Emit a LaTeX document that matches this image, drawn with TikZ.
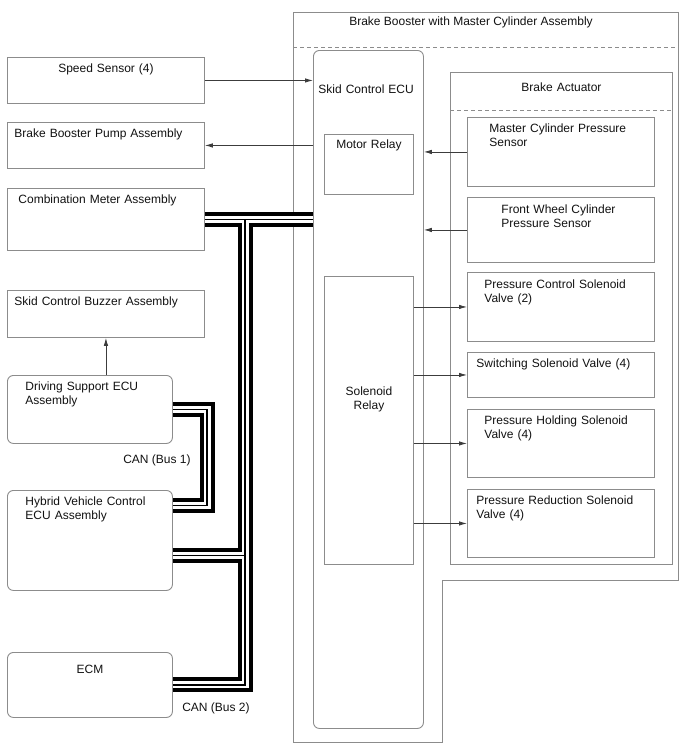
\documentclass[tikz,border=0pt]{standalone}
\usepackage{fontspec}
\setmainfont{Liberation Sans}
\usepackage{tikz}
\usetikzlibrary{arrows.meta}
\definecolor{ink}{HTML}{111111}
\definecolor{frame}{HTML}{8C8C8C}
\definecolor{wire}{HTML}{3C3C3C}
\tikzset{
  blk/.style={
    draw=frame, line width=0.9pt, anchor=north west, align=left,
    text height=9pt, font=\fontsize{12}{14.5}\selectfont\color{ink}},
  ecubox/.style={blk, rounded corners=6pt},
  sig/.style={-{Latex[length=8pt,width=4.5pt]}, line width=0.8pt, color=wire},
  can/.style={draw=black, line width=15pt,
    postaction={draw=white, line width=7pt},
    postaction={draw=black, line width=1.2pt}},
  tag/.style={font=\fontsize{12}{14.5}\selectfont\color{ink}},
}

\begin{document}
\begin{tikzpicture}[x=1pt, y=-1pt]
  \useasboundingbox (0,0) rectangle (688,755);

  % booster housing
  \draw[frame, line width=0.9pt] (293,12) -- (678,12) -- (678,580) -- (442,580) -- (442,742) -- (293,742) -- cycle;
  \draw[frame, line width=0.9pt, dash pattern=on 4pt off 3pt] (293,47) -- (678,47);
  \node[tag] (booster) at (471,22) {Brake Booster with Master Cylinder Assembly};

  % left side parts
  \node[blk, align=center, text width=189pt, inner xsep=4pt, inner ysep=6pt, text depth=25pt] (speed) at (7,57) {Speed Sensor (4)};
  \node[blk, text width=183pt, inner xsep=7pt, inner ysep=6pt, text depth=25pt] (pump) at (7,122) {Brake Booster Pump Assembly};
  \node[blk, text width=175pt, inner xsep=11pt, inner ysep=6pt, text depth=41pt] (meter) at (7,188) {Combination Meter Assembly};
  \node[blk, text width=183pt, inner xsep=7pt, inner ysep=6pt, text depth=26pt] (buzzer) at (7,290) {Skid Control Buzzer Assembly};
  \node[ecubox, text width=129pt, inner xsep=18pt, inner ysep=6pt, text depth=47pt] (drive) at (7,375) {Driving Support ECU\\Assembly};
  \node[ecubox, text width=129pt, inner xsep=18pt, inner ysep=6pt, text depth=79pt] (hybrid) at (7,490) {Hybrid Vehicle Control\\ECU Assembly};
  \node[ecubox, align=center, text width=157pt, inner xsep=4pt, inner ysep=12pt, text depth=32pt] (ecm) at (7,652) {ECM};

  % skid control ecu
  \node[ecubox, text width=100pt, inner xsep=5pt, inner ysep=34pt, text depth=601pt] (ecu) at (313,50) {Skid Control ECU};
  \node[blk, align=center, text width=83pt, inner xsep=3pt, inner ysep=5pt, text depth=41pt] (motor) at (324,134) {Motor Relay};
  \node[blk, align=center, text width=83pt, inner xsep=3pt, inner ysep=110pt, text depth=59pt] (solenoid) at (324,276) {Solenoid\\Relay};

  % brake actuator
  \node[blk, align=center, text width=214pt, inner xsep=4pt, inner ysep=10pt, text depth=463pt] (actuator) at (450,72) {Brake Actuator};
  \draw[frame, line width=0.9pt, dash pattern=on 4pt off 3pt] ([yshift=-38pt]actuator.north west) -- ([yshift=-38pt]actuator.north east);
  \node[blk, text width=143pt, inner xsep=22pt, inner ysep=6pt, text depth=48pt] (mcps) at (467,117) {Master Cylinder Pressure\\Sensor};
  \node[blk, text width=119pt, inner xsep=34pt, inner ysep=7pt, text depth=42pt] (fwcps) at (467,197) {Front Wheel Cylinder\\Pressure Sensor};
  \node[blk, text width=153pt, inner xsep=17pt, inner ysep=7pt, text depth=46pt] (pcsv) at (467,272) {Pressure Control Solenoid\\Valve (2)};
  \node[blk, text width=169pt, inner xsep=9pt, inner ysep=6pt, text depth=24pt] (ssv) at (467,352) {Switching Solenoid Valve (4)};
  \node[blk, text width=153pt, inner xsep=17pt, inner ysep=6pt, text depth=47pt] (phsv) at (467,409) {Pressure Holding Solenoid\\Valve (4)};
  \node[blk, text width=169pt, inner xsep=9pt, inner ysep=6pt, text depth=47pt] (prsv) at (467,489) {Pressure Reduction Solenoid\\Valve (4)};

  % signal wires
  \draw[sig] (speed) -- (speed -| ecu.west);
  \draw[sig] (pump -| ecu.west) -- (pump);
  \draw[sig] (mcps) -- (mcps -| ecu.east);
  \draw[sig] (fwcps) -- (fwcps -| ecu.east);
  \draw[sig] (pcsv -| solenoid.east) -- (pcsv);
  \draw[sig] (ssv -| solenoid.east) -- (ssv);
  \draw[sig] (phsv -| solenoid.east) -- (phsv);
  \draw[sig] (prsv -| solenoid.east) -- (prsv);
  \draw[sig] (drive.north -| buzzer.south) -- (buzzer.south);

  % can buses
  \coordinate (bus1) at (207,0);
  \coordinate (bus2) at (245,0);
  \coordinate (hyb1) at ([yshift=35pt]hybrid.east);
  \coordinate (hyb2) at ([yshift=-15pt]hybrid.east);
  \draw[can] (drive) -- (drive -| bus1) -- (hyb1 -| bus1) -- (hyb1);
  \draw[can] (meter) -- (meter -| ecu.west)
    (meter -| bus2) -- (ecm -| bus2) -- (ecm)
    (hyb2) -- (hyb2 -| bus2);
  \node[tag] (can1) at (157,460) {CAN (Bus 1)};
  \node[tag] (can2) at (216,708) {CAN (Bus 2)};
\end{tikzpicture}
\end{document}
